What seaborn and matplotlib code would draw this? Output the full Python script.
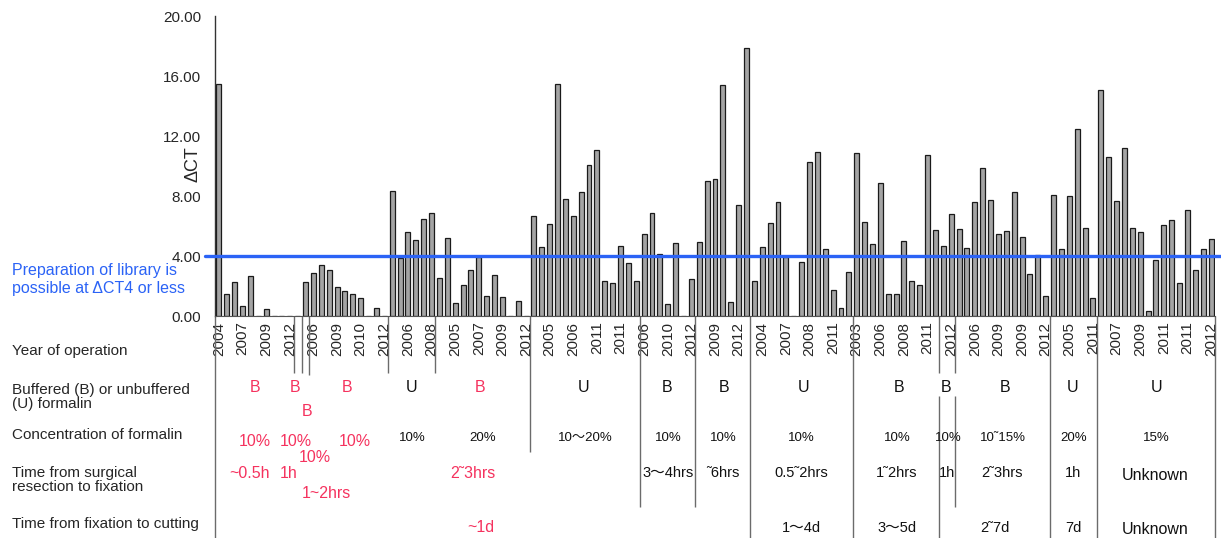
import matplotlib
matplotlib.use("Agg")
import matplotlib.pyplot as plt
import matplotlib.transforms as mtransforms
import numpy as np
import pandas as pd
import seaborn as sns

# delta CT per sample, left to right
DELTA_CT = [
    15.5, 1.5, 2.3, 0.7, 2.7, 0.0, 0.5, 0.0, 0.0, 0.0,
    0.0, 2.3, 2.85, 3.4, 3.1, 1.95, 1.65, 1.5, 1.2, 0.0,
    0.55, 0.0, 8.35, 3.85, 5.6, 5.05, 6.5, 6.85, 2.55, 5.2,
    0.9, 2.05, 3.1, 3.95, 1.35, 2.75, 1.3, 0.0, 1.0, 0.0,
    6.7, 4.6, 6.15, 15.45, 7.8, 6.7, 8.25, 10.05, 11.1, 2.35,
    2.2, 4.7, 3.55, 2.35, 5.45, 6.85, 4.15, 0.8, 4.85, 0.0,
    2.5, 4.95, 9.0, 9.15, 15.4, 0.95, 7.4, 17.9, 2.35, 4.6,
    6.2, 7.6, 3.95, 0.0, 3.6, 10.25, 10.95, 4.45, 1.75, 0.55,
    2.95, 10.85, 6.25, 4.8, 8.85, 1.5, 1.45, 5.0, 2.35, 2.05,
    10.75, 5.75, 4.7, 6.8, 5.8, 4.55, 7.6, 9.85, 7.75, 5.45,
    5.65, 8.25, 5.3, 2.8, 4.05, 1.35, 8.1, 4.5, 8.0, 12.45,
    5.9, 1.2, 15.1, 10.6, 7.65, 11.2, 5.9, 5.6, 0.35, 3.75,
    6.1, 6.4, 2.2, 7.05, 3.05, 4.45, 5.15,
]

# year labels shown under every third bar
YEAR_LABELS = [
    "2004", "2007", "2009", "2012", "2006", "2009", "2010", "2012", "2006", "2008",
    "2005", "2007", "2009", "2012", "2005", "2006", "2011", "2011", "2006", "2010",
    "2012", "2009", "2012", "2004", "2007", "2008", "2011", "2003", "2006", "2008",
    "2011", "2012", "2006", "2009", "2009", "2012", "2005", "2011", "2007", "2009",
    "2011", "2011", "2012",
]

THRESHOLD = 4.0
Y_TICKS = [0, 4, 8, 12, 16, 20]

ROW_TITLES = [
    "Year of operation",
    "Buffered (B) or unbuffered\n(U) formalin",
    "Concentration of formalin",
    "Time from surgical\nresection to fixation",
    "Time from fixation to cutting",
]

BUFFER_TEXT = ["B", "B", "B", "B", "U", "B", "U", "B", "B", "U", "B", "B", "B", "U", "U"]
CONC_TEXT = ["10%", "10%", "10%", "10%", "10%", "20%", "10\u301c20%", "10%", "10%",
             "10%", "10%", "10%", "10\u02dc15%", "20%", "15%"]
RESECT_TEXT = ["~0.5h", "1h", "1~2hrs", "2\u02dc3hrs", "3\u301c4hrs", "\u02dc6hrs",
               "0.5\u02dc2hrs", "1\u02dc2hrs", "1h", "2\u02dc3hrs", "1h", "Unknown"]
CUT_TEXT = ["~1d", "1\u301c4d", "3\u301c5d", "2\u02dc7d", "7d", "Unknown"]

# layout: (bar-index x, pixel y, red?, fontsize) for each annotation above
BUFFER_POS = [(4.6, 387, 1, 11.5), (9.7, 387, 1, 11.5), (16.3, 387, 1, 11.5), (11.2, 412, 1, 11.5),
              (24.4, 387, 0, 11.5), (33.2, 387, 1, 11.5), (46.3, 387, 0, 11.5), (56.9, 387, 0, 11.5),
              (64.1, 387, 0, 11.5), (74.2, 387, 0, 11.5), (86.4, 387, 0, 11.5), (92.4, 387, 0, 11.5),
              (99.8, 387, 0, 11.5), (108.4, 387, 0, 11.5), (119.1, 387, 0, 11.5)]
CONC_POS = [(4.5, 441, 1, 11.5), (9.8, 441, 1, 11.5), (17.3, 441, 1, 11.5), (12.2, 457, 1, 11.5),
            (24.5, 438, 0, 9.5), (33.5, 438, 0, 9.5), (46.5, 438, 0, 9.5), (57.1, 438, 0, 9.5),
            (64.0, 438, 0, 9.5), (74.0, 438, 0, 9.5), (86.1, 438, 0, 9.5), (92.6, 438, 0, 9.5),
            (99.6, 438, 0, 9.5), (108.5, 438, 0, 9.5), (119.1, 438, 0, 9.5)]
RESECT_POS = [(3.9, 474, 1, 11.5), (8.9, 474, 1, 11.5), (13.6, 493, 1, 11.5), (32.3, 473, 1, 11.5),
              (57.0, 473, 0, 10.5), (64.0, 473, 0, 10.5), (73.9, 473, 0, 10.5), (86.1, 473, 0, 10.5),
              (92.5, 473, 0, 10.5), (99.5, 473, 0, 10.5), (108.5, 473, 0, 10.5), (118.9, 476, 0, 11.5)]
CUT_POS = [(33.2, 528, 1, 11.5), (74.0, 528, 0, 10.5), (86.1, 528, 0, 10.5),
           (98.6, 528, 0, 10.5), (108.5, 528, 0, 10.5), (118.9, 530, 0, 11.5)]

# group separators: bar-index x, list of (top px, bottom px)
SEPARATORS = [(-0.5, [(316, 538)]), (9.5, [(316, 373)]), (10.5, [(316, 373)]), (11.5, [(316, 375)]),
              (21.5, [(316, 373)]), (27.5, [(316, 373)]), (39.5, [(316, 452)]), (53.5, [(316, 507)]),
              (60.5, [(316, 507)]), (67.5, [(316, 538)]), (80.5, [(316, 538)]),
              (91.5, [(316, 373), (396, 538)]), (93.5, [(316, 373), (396, 507)]),
              (105.5, [(316, 538)]), (111.5, [(316, 538)]), (126.5, [(316, 538)])]

W, H = 1221, 538
RED = "#F5325E"
BLUE = "#2B63F6"

sns.set_style("white")
plt.rcParams["font.family"] = ["Liberation Sans", "Noto Sans CJK JP"]

fig = plt.figure(figsize=(W / 100, H / 100), dpi=100)
ax = fig.add_axes([215 / W, 1 - 316 / H, 1000 / W, 300 / H])

df = pd.DataFrame({"sample": np.arange(len(DELTA_CT)), "dct": DELTA_CT})
sns.barplot(data=df, x="sample", y="dct", color="#a4a4a4", saturation=1, width=0.63,
            edgecolor="#1a1a1a", linewidth=0.9, ax=ax, zorder=2)

ax.set_xlim(-0.5, len(DELTA_CT) - 0.5)
ax.set_ylim(0, 20)
ax.set_xticks(np.arange(0, len(DELTA_CT), 3))
ax.set_xticklabels(YEAR_LABELS, rotation=90, fontsize=11)
ax.set_yticks(Y_TICKS)
ax.set_yticklabels([f"{v:.2f}" for v in Y_TICKS], fontsize=11)
ax.tick_params(axis="x", length=0, pad=4)
ax.tick_params(axis="y", length=0, pad=10)
ax.set_xlabel("")
ax.set_ylabel("")
sns.despine(ax=ax)
ax.spines["left"].set_color("#333333")
ax.spines["bottom"].set_color("#555555")
ax.spines["left"].set_linewidth(1)
ax.spines["bottom"].set_linewidth(0.8)

ax.axhline(THRESHOLD, xmin=-0.01, xmax=1.006, color=BLUE, lw=2.4, clip_on=False, zorder=5)
fig.text(12 / W, 1 - 280 / H, "Preparation of library is\npossible at \u0394CT4 or less",
         color=BLUE, fontsize=11.5, ha="left", va="center", linespacing=1.25)
fig.text(193 / W, 1 - 164 / H, "\u0394CT", rotation=90, fontsize=13, ha="center", va="center")

for title, y in zip(ROW_TITLES, [351, 397, 435, 480, 524]):
    fig.text(12 / W, 1 - y / H, title, fontsize=11, ha="left", va="center", linespacing=1.05)

blend = mtransforms.blended_transform_factory(ax.transData, fig.transFigure)
for texts, poss in [(BUFFER_TEXT, BUFFER_POS), (CONC_TEXT, CONC_POS),
                    (RESECT_TEXT, RESECT_POS), (CUT_TEXT, CUT_POS)]:
    for s, (x, y, red, size) in zip(texts, poss):
        ax.text(x, 1 - y / H, s, transform=blend, ha="center", va="center",
                fontsize=size, color=RED if red else "#111111", clip_on=False)

for x, segments in SEPARATORS:
    for top, bottom in segments:
        ax.vlines(x, 1 - bottom / H, 1 - top / H, transform=blend, colors="#6b6b6b",
                  lw=1, clip_on=False)

fig.savefig("out.png", dpi=100)
